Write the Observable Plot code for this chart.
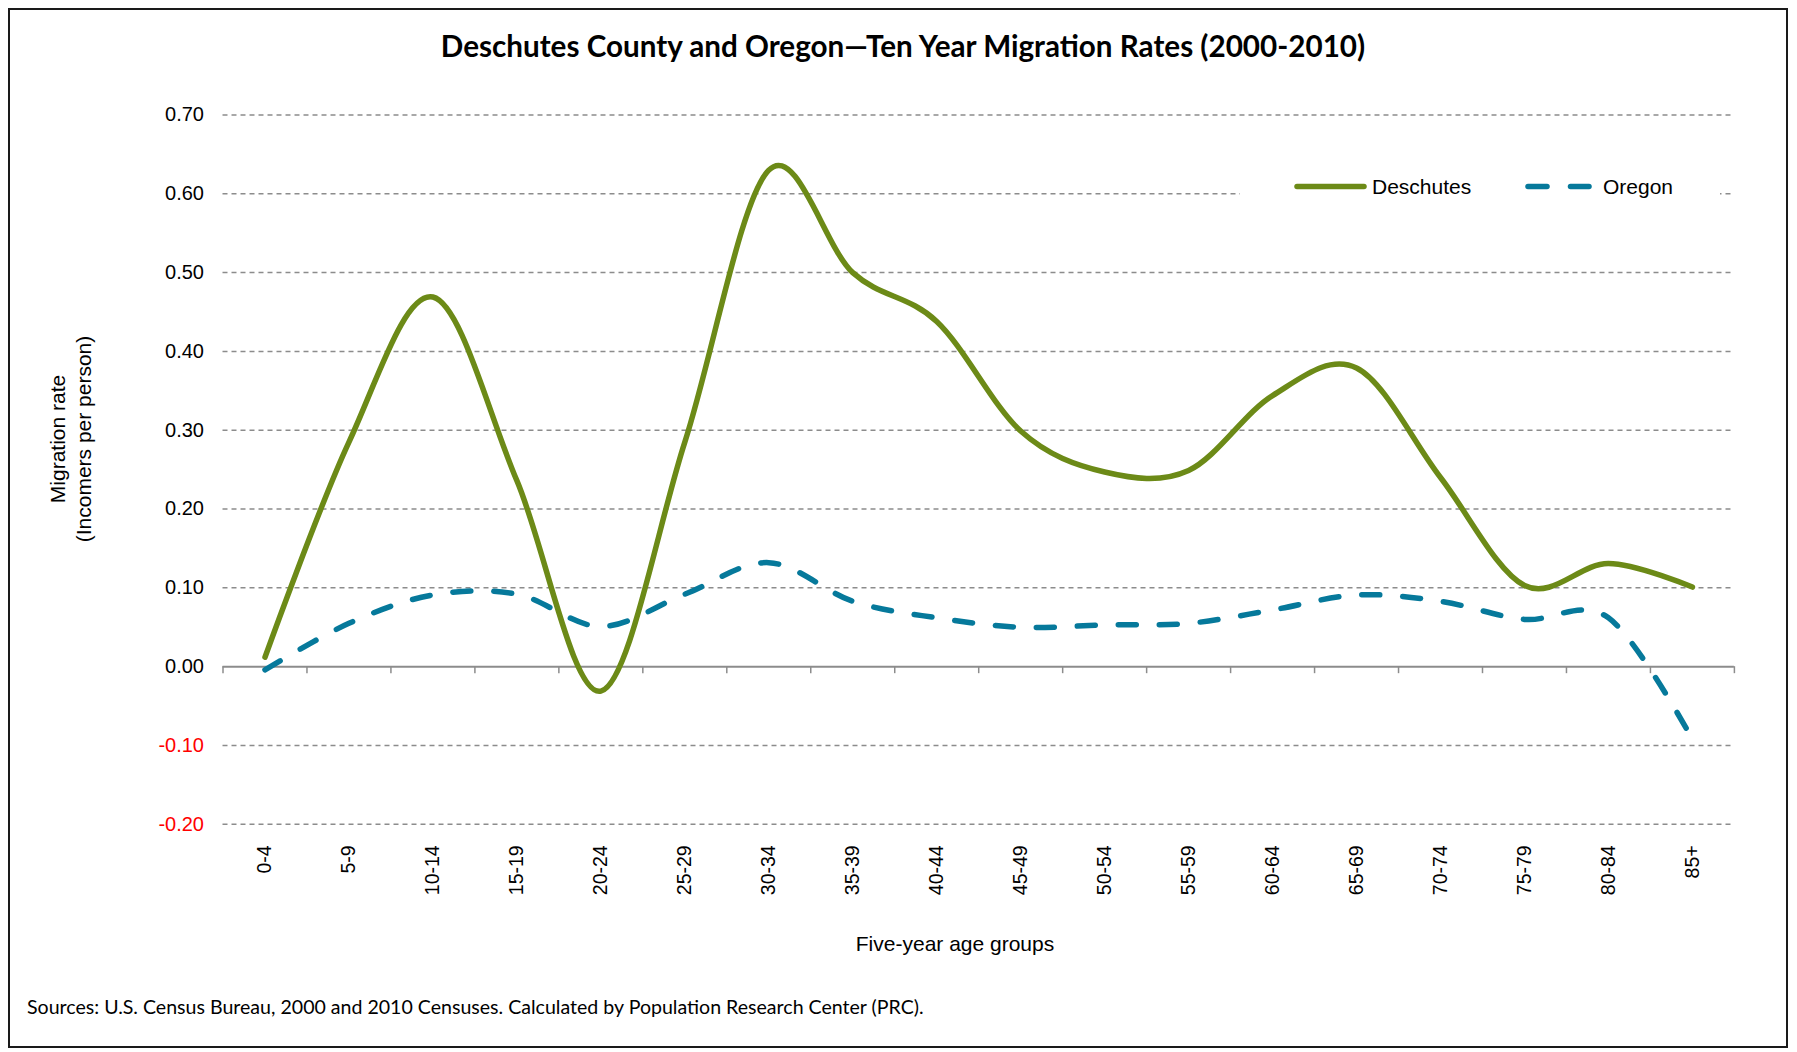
<!DOCTYPE html>
<html><head><meta charset="utf-8">
<script src="https://cdn.jsdelivr.net/npm/d3@7"></script>
<script src="https://cdn.jsdelivr.net/npm/@observablehq/plot@0.6"></script>
<style>
body{margin:0;background:#fff;}
#wrap{position:relative;width:1797px;height:1052px;overflow:hidden;background:#fff;font-family:"Liberation Sans",Arial,sans-serif;color:#000;}
#frame{position:absolute;left:8px;top:8px;width:1776px;height:1036px;border:2px solid #1a1a1a;box-sizing:content-box;}
#title{position:absolute;left:0;width:1806px;top:29px;text-align:center;font-family:Lato,"Open Sans",sans-serif;font-weight:bold;font-size:28px;white-space:nowrap;line-height:34px;}
#title span,#caption span{display:inline-block;}
#chart{position:absolute;left:0;top:80px;}
#legend{position:absolute;left:1240px;top:166px;width:480px;height:42px;background:#fff;}
#ylab{position:absolute;left:-79px;top:413px;width:300px;height:52px;line-height:26px;text-align:center;font-size:21px;transform:rotate(-90deg);white-space:nowrap;}
#xlab{position:absolute;left:755px;top:931px;width:400px;text-align:center;font-size:21px;line-height:26px;}
#caption{position:absolute;left:27px;top:995px;font-family:Lato,"Open Sans",sans-serif;font-size:18px;white-space:nowrap;line-height:24px;}
</style></head>
<body>
<div id="wrap">
  <div id="frame"></div>
  <div id="title"><span>Deschutes County and Oregon—Ten Year Migration Rates (2000-2010)</span></div>
  <div id="chart"></div>
  <div id="legend"></div>
  <div id="ylab">Migration rate<br>(Incomers per person)</div>
  <div id="xlab">Five-year age groups</div>
  <div id="caption"><span>Sources: U.S. Census Bureau, 2000 and 2010 Censuses. Calculated by Population Research Center (PRC).</span></div>
</div>
<script>
const ageGroups = ["0-4","5-9","10-14","15-19","20-24","25-29","30-34","35-39","40-44","45-49","50-54","55-59","60-64","65-69","70-74","75-79","80-84","85+"];
const deschutes = [0.012, 0.285, 0.469, 0.236, -0.031, 0.285, 0.630, 0.500, 0.438, 0.299, 0.247, 0.249, 0.344, 0.379, 0.240, 0.103, 0.131, 0.101];
const oregon    = [-0.004, 0.055, 0.091, 0.092, 0.051, 0.092, 0.132, 0.083, 0.062, 0.050, 0.053, 0.055, 0.072, 0.091, 0.083, 0.060, 0.062, -0.092];
const yTicks = [-0.2, -0.1, 0, 0.1, 0.2, 0.3, 0.4, 0.5, 0.6, 0.7];
const seriesNames = ["Deschutes", "Oregon"];
const seriesColors = ["#6c8a17", "#06799b"];

const W = 1797, H = 880;
const mL = 222.5, mR = 63.1, mT = 34.5, mB = 136.2;
const step = (W - mL - mR) / ageGroups.length;
const pxPerUnit = (H - mT - mB) / (yTicks[yTicks.length-1] - yTicks[0]);

const desData = ageGroups.map((a, i) => ({age: a, value: deschutes[i]}));
const oreData = ageGroups.map((a, i) => ({age: a, value: oregon[i]}));
const smooth = d3.curveCatmullRom.alpha(0);
const gridStyle = {stroke: "#8c8c8c", strokeOpacity: 1, strokeWidth: 1.5};

const chart = Plot.plot({
  width: W, height: H,
  marginLeft: mL, marginRight: mR, marginTop: mT, marginBottom: mB,
  style: {fontFamily: "'Liberation Sans', Arial, sans-serif", background: "transparent", color: "#000"},
  x: {type: "point", domain: ageGroups, padding: 0.5, round: false},
  y: {domain: [yTicks[0], yTicks[yTicks.length-1]]},
  marks: [
    Plot.gridY(yTicks.filter(d => d !== 0), {...gridStyle, strokeDasharray: "5,4"}),
    Plot.ruleY([0], {...gridStyle, strokeWidth: 2}),
    Plot.ruleX(ageGroups, {x: d => d, dx: -step/2, y1: 0, y2: -7/pxPerUnit, ...gridStyle}),
    Plot.ruleX(ageGroups.slice(-1), {x: d => d, dx: step/2, y1: 0, y2: -7/pxPerUnit, ...gridStyle}),
    Plot.axisY(yTicks.filter(d => d >= 0), {tickSize: 0, tickPadding: 19, tickFormat: d => d.toFixed(2), fontSize: 20, fill: "#000", label: null}),
    Plot.axisY(yTicks.filter(d => d < 0), {tickSize: 0, tickPadding: 19, tickFormat: d => d.toFixed(2), fontSize: 20, fill: "#ff0000", label: null}),
    Plot.axisX({tickSize: 0, tickPadding: 21, rotate: -90, textAnchor: "end", lineAnchor: "middle", fontSize: 19.5, fill: "#000", label: null}),
    Plot.line(desData, {x: "age", y: "value", stroke: seriesColors[0], strokeWidth: 5.5, strokeLinecap: "round", strokeLinejoin: "round", curve: smooth}),
    Plot.line(oreData, {x: "age", y: "value", stroke: seriesColors[1], strokeWidth: 5.5, strokeLinecap: "round", strokeDasharray: "18,23", curve: smooth})
  ]
});
document.getElementById("chart").appendChild(chart);

// Legend
const lg = d3.select("#legend").append("svg").attr("width", 480).attr("height", 42)
  .style("font-family", "'Liberation Sans', Arial, sans-serif").style("font-size", "21px");
lg.append("line").attr("x1", 57).attr("x2", 124).attr("y1", 20.5).attr("y2", 20.5)
  .attr("stroke", seriesColors[0]).attr("stroke-width", 5.5).attr("stroke-linecap", "round");
lg.append("text").attr("x", 132).attr("y", 28).text(seriesNames[0]);
[[288, 307], [330.5, 349]].forEach(([a, b]) => {
  lg.append("line").attr("x1", a).attr("x2", b).attr("y1", 20.5).attr("y2", 20.5)
    .attr("stroke", seriesColors[1]).attr("stroke-width", 5.5).attr("stroke-linecap", "round");
});
lg.append("text").attr("x", 363).attr("y", 28).text(seriesNames[1]);

// fit title and caption widths
function fit(id, target) {
  const el = document.getElementById(id);
  const span = el.querySelector("span");
  const fs = parseFloat(getComputedStyle(el).fontSize);
  const w = span.getBoundingClientRect().width;
  el.style.fontSize = (fs * target / w) + "px";
}
fit("title", 925);
fit("caption", 897);
</script>
</body></html>
